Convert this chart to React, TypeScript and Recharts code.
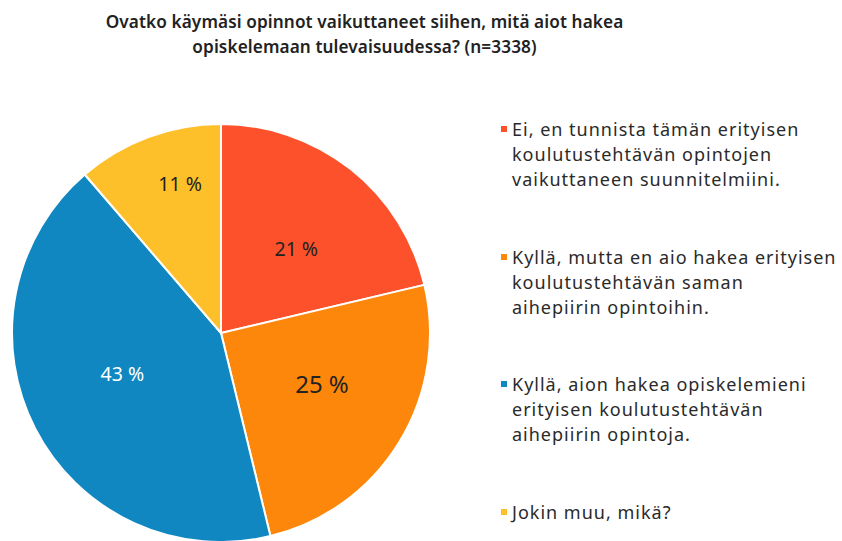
import { Cell, Pie, PieChart } from 'recharts'

const categories = [
  'Ei, en tunnista tämän erityisen koulutustehtävän opintojen vaikuttaneen suunnitelmiini.',
  'Kyllä, mutta en aio hakea erityisen koulutustehtävän saman aihepiirin opintoihin.',
  'Kyllä, aion hakea opiskelemieni erityisen koulutustehtävän aihepiirin opintoja.',
  'Jokin muu, mikä?',
]
const legendLines = [
  ['Ei, en tunnista tämän erityisen', 'koulutustehtävän opintojen', 'vaikuttaneen suunnitelmiini.'],
  ['Kyllä, mutta en aio hakea erityisen', 'koulutustehtävän saman', 'aihepiirin opintoihin.'],
  ['Kyllä, aion hakea opiskelemieni', 'erityisen koulutustehtävän', 'aihepiirin opintoja.'],
  ['Jokin muu, mikä?'],
]
const shares = [21.3, 24.9, 42.5, 11.3]
const colors = ['#FD512B', '#FD870B', '#1087C1', '#FDC02A']

const data = categories.map((name, i) => ({ name, value: shares[i] }))

const FONT = '"Noto Sans", sans-serif'

// label placement tweaks per slice: radius fraction, angle nudge (deg, clockwise), size, colour
const labelRadius = [0.54, 0.54, 0.51, 0.74]
const labelNudge = [3.5, -5, 5, 5]
const labelSize = [19.5, 24, 19.5, 19.5]
const labelColor = ['#222', '#222', '#fff', '#222']

const RAD = Math.PI / 180

function SliceLabel(props: any) {
  const { cx, cy, midAngle, outerRadius, index, value } = props
  const r = outerRadius * labelRadius[index]
  const a = (midAngle - labelNudge[index]) * RAD
  const x = cx + r * Math.cos(-a)
  const y = cy + r * Math.sin(-a)
  return (
    <text x={x} y={y} textAnchor="middle" dominantBaseline="central" fill={labelColor[index]} fontSize={labelSize[index]} fontFamily={FONT}>
      {`${Math.round(value)} %`}
    </text>
  )
}

function LegendBlock() {
  return (
    <div style={{ position: 'absolute', left: 501, top: 117, width: 341, fontFamily: FONT, fontSize: 18, letterSpacing: 1, color: '#2a2a2a' }}>
      {legendLines.map((lines, i) => (
        <div key={i} style={{ position: 'relative', height: 127.5, paddingLeft: 11 }}>
          <span style={{ position: 'absolute', left: 0, top: 9, width: 6, height: 6, background: colors[i] }} />
          {lines.map((l, j) => (
            <div key={j} style={{ lineHeight: '25px', whiteSpace: 'nowrap' }}>{l}</div>
          ))}
        </div>
      ))}
    </div>
  )
}

export default function App() {
  return (
    <div style={{ position: 'absolute', left: 0, top: 0, width: 842, height: 541, background: '#fff', overflow: 'hidden' }}>
      <div
        style={{
          position: 'absolute', left: 0, top: 9, width: 729, textAlign: 'center',
          fontFamily: FONT, fontWeight: 600, fontSize: 17.2, letterSpacing: 0.1, lineHeight: '25px', color: '#222',
        }}
      >
        Ovatko käymäsi opinnot vaikuttaneet siihen, mitä aiot hakea
        <br />
        opiskelemaan tulevaisuudessa? (n=3338)
      </div>
      <PieChart width={842} height={541} margin={{ top: 0, right: 0, bottom: 0, left: 0 }} style={{ position: 'absolute', left: 0, top: 0 }}>
        <Pie
          data={data}
          dataKey="value"
          nameKey="name"
          cx={221}
          cy={333}
          outerRadius={209}
          startAngle={90}
          endAngle={-270}
          stroke="#fff"
          strokeWidth={2}
          label={SliceLabel}
          labelLine={false}
          isAnimationActive={false}
        >
          {data.map((d, i) => (
            <Cell key={d.name} fill={colors[i]} />
          ))}
        </Pie>
      </PieChart>
      <LegendBlock />
    </div>
  )
}
